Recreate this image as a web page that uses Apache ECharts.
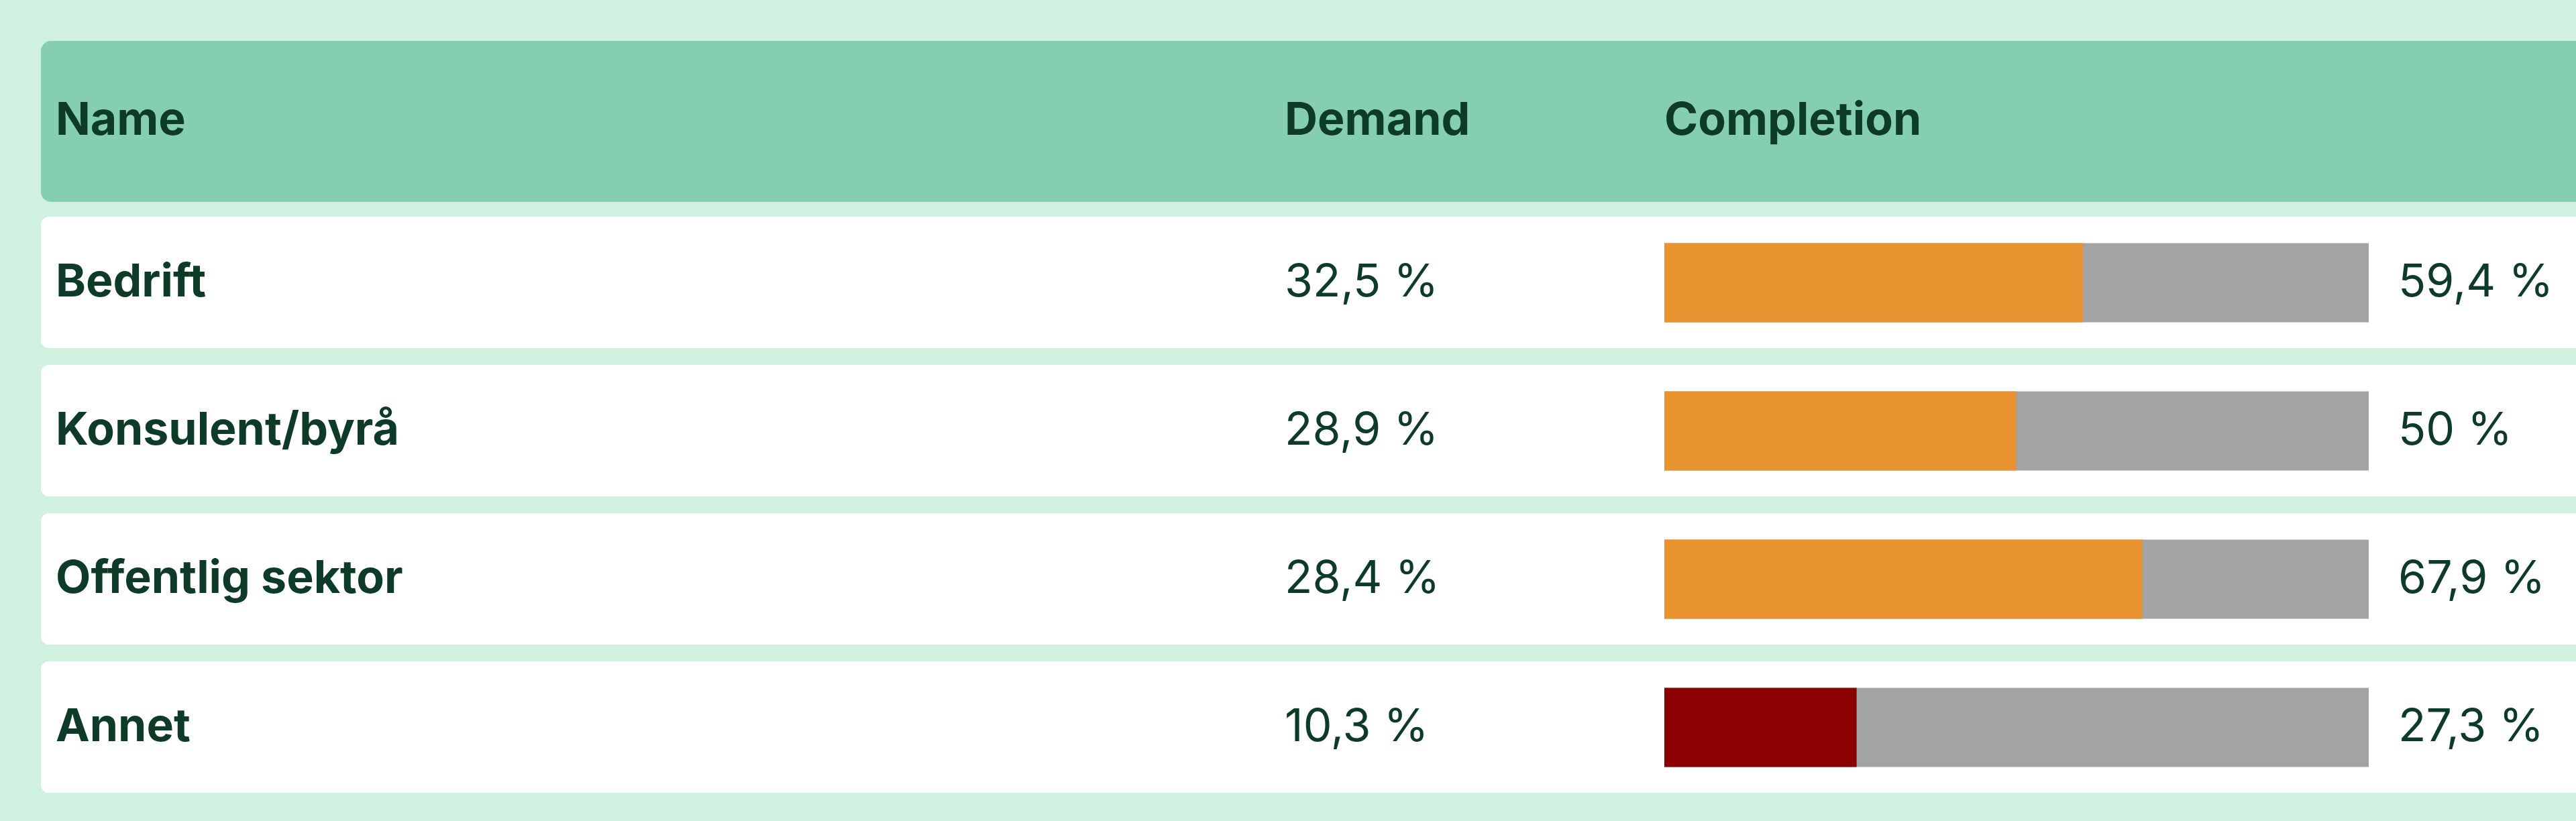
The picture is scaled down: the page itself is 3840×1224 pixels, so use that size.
<!DOCTYPE html>
<html><head><meta charset="utf-8">
<script src="https://cdn.jsdelivr.net/npm/echarts@6/dist/echarts.min.js"></script>
<style>html,body{margin:0;padding:0;background:#d0f0e0;}#c{width:3840px;height:1224px;}</style>
</head><body><div id="c"></div>
<script>
const names = ['Bedrift', 'Konsulent/byrå', 'Offentlig sektor', 'Annet'];
const demand = [32.5, 28.9, 28.4, 10.3];
const completion = [59.4, 50, 67.9, 27.3];
const headers = ['Name', 'Demand', 'Completion'];

const fmt = v => String(v).replace('.', ',') + ' %';
const TXT = '#0e3b27';
const FONT = 'Inter, "Noto Sans", sans-serif';
const rowTop = 323, rowPitch = 221, rowH = 196;

const graphics = [{
  type: 'rect', z: -10, shape: {x: 61, y: 61, width: 3840, height: 240, r: [15, 0, 0, 15]},
  style: {fill: '#85cfb0'}
}];
names.forEach((n, i) => graphics.push({
  type: 'rect', z: -10, shape: {x: 61, y: rowTop + i * rowPitch, width: 3840, height: rowH, r: [12, 0, 0, 12]},
  style: {fill: '#ffffff'}
}));
[83, 1915, 2481].forEach((x, i) => graphics.push({
  type: 'text', x: x, y: 181,
  style: {text: headers[i], fill: TXT, font: 'bold 68px ' + FONT, textVerticalAlign: 'middle'}
}));

const chart = echarts.init(document.getElementById('c'));
chart.setOption({
  backgroundColor: '#d0f0e0',
  animation: false,
  graphic: graphics,
  grid: {left: 2481, width: 1050, top: rowTop - 12, height: rowPitch * 4},
  xAxis: {type: 'value', min: 0, max: 100, show: false},
  yAxis: {
    type: 'category', inverse: true, data: names,
    axisLine: {show: false}, axisTick: {show: false},
    axisLabel: {
      align: 'left', margin: 2481 - 83,
      formatter: (v, i) => '{n|' + v + '}{d|' + fmt(demand[i]) + '}',
      rich: {
        n: {width: 1832, fontSize: 68, fontWeight: 'bold', color: TXT, fontFamily: FONT},
        d: {fontSize: 68, color: TXT, fontFamily: FONT}
      }
    }
  },
  series: [{
    type: 'bar', barWidth: 118, data: completion.map(() => 100),
    itemStyle: {color: '#a3a3a3'}, silent: true,
    label: {show: true, position: 'right', distance: 44, fontSize: 68, color: TXT, fontFamily: FONT,
      formatter: p => fmt(completion[p.dataIndex])}
  }, {
    type: 'bar', barWidth: 118, barGap: '-100%', data: completion,
    itemStyle: {color: p => p.value < 40 ? '#8b0000' : '#e99230'}
  }]
});
</script></body></html>
